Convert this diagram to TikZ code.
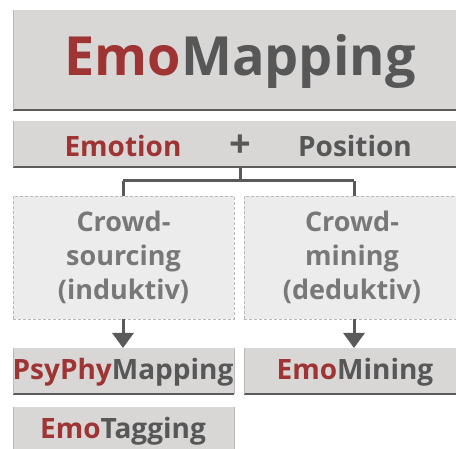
\documentclass[tikz,border=0pt]{standalone}
\usepackage{fontspec}
\setmainfont{Open Sans}
\usetikzlibrary{arrows.meta}
\definecolor{boxgray}{RGB}{217,215,214}
\definecolor{lightbox}{RGB}{236,236,236}
\definecolor{dashgray}{RGB}{185,185,185}
\definecolor{darkline}{RGB}{90,90,90}
\definecolor{emored}{RGB}{158,52,52}
\definecolor{txtgray}{RGB}{87,87,87}
\definecolor{crowdgray}{RGB}{120,120,120}
\tikzset{
  x=1pt,y=1pt,
  solidbox/.style={fill=boxgray, draw=none, inner sep=0pt, outer sep=0pt},
  crowdbox/.style={fill=lightbox, draw=dashgray, densely dashed, line width=0.8pt, inner sep=0pt, outer sep=0pt,
     font=\bfseries\fontsize{27}{34}\selectfont, text=crowdgray, align=center},
  lbl/.style={font=\bfseries\fontsize{28}{34}\selectfont, text=txtgray, inner sep=0pt},
  conn/.style={draw=darkline, line width=3pt},
  arr/.style={draw=darkline, line width=3pt, -{Triangle[width=21pt,length=15pt]}},
  bottomline/.style={draw=darkline, line width=1.8pt},
  sideline/.style={draw=dashgray, line width=0.8pt}
}
\begin{document}
\begin{tikzpicture}
\useasboundingbox (0,0) rectangle (456,448);
\clip (0,0) rectangle (456,448);
\fill[white] (0,0) rectangle (456,448);
% title box
\node[solidbox, minimum width=454pt, minimum height=100pt] (title) at (240,388) {};
\draw[bottomline] (title.south west) -- (title.south east);
\draw[sideline] (title.south west) -- (title.north west);
\node[font=\bfseries\fontsize{54}{60}\selectfont, text=txtgray, inner sep=0pt] (titletext) at (240,387) {\textcolor{emored}{Emo}Mapping};
% emotion + position
\node[solidbox, minimum width=454pt, minimum height=46pt] (ep) at (240,304) {};
\draw[bottomline] (ep.south west) -- (ep.south east);
\draw[sideline] (ep.south west) -- (ep.north west);
\node[lbl, text=emored] (emotion) at (123,302) {Emotion};
\node[lbl, font=\bfseries\fontsize{38}{40}\selectfont] (plus) at (240,302) {+};
\node[lbl] (position) at (355,302) {Position};
% crowd boxes
\node[crowdbox, minimum width=221pt, minimum height=123pt] (cs) at (123.5,190.5) {Crowd-\\sourcing\\(induktiv)};
\node[crowdbox, minimum width=216pt, minimum height=123pt] (cm) at (352,190.5) {Crowd-\\mining\\(deduktiv)};
% connector
\coordinate (split) at (240,267);
\draw[conn] (ep.south -| split) -- (split);
\draw[conn] (123,267) -- (354,267);
\draw[conn] (123,267) -- (123,252);
\draw[conn] (354,267) -- (354,252);
% result boxes
\node[solidbox, minimum width=221pt, minimum height=46pt] (ppm) at (123.5,77) {};
\draw[bottomline] (ppm.south west) -- (ppm.south east);
\draw[sideline] (ppm.south west) -- (ppm.north west);
\draw[sideline] (ppm.south east) -- (ppm.north east);
\node[lbl] (ppmtext) at (123,76) {\textcolor{emored}{PsyPhy}Mapping};
\node[solidbox, minimum width=216pt, minimum height=46pt] (em) at (352,77) {};
\draw[bottomline] (em.south west) -- (em.south east);
\draw[sideline] (em.south west) -- (em.north west);
\node[lbl] (emtext) at (355,76) {\textcolor{emored}{Emo}Mining};
\node[solidbox, minimum width=221pt, minimum height=46pt] (et) at (123.5,18) {};
\draw[sideline] (et.south west) -- (et.north west);
\draw[sideline] (et.south east) -- (et.north east);
\node[lbl] (ettext) at (123,17) {\textcolor{emored}{Emo}Tagging};
% arrows
\draw[arr] (cs.south -| 123,0) -- (ppm.north -| 123,0);
\draw[arr] (cm.south -| 354,0) -- (em.north -| 354,0);
\end{tikzpicture}
\end{document}
